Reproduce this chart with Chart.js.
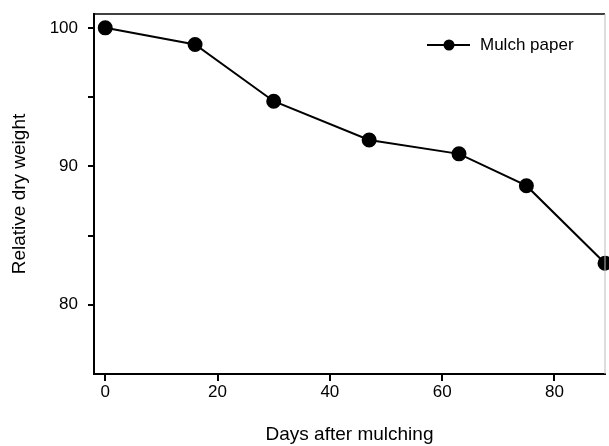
<!DOCTYPE html>
<html>
<head>
<meta charset="utf-8">
<script src="https://cdn.jsdelivr.net/npm/chart.js@4/dist/chart.umd.min.js"></script>
<style>
  html, body { margin: 0; padding: 0; background: #fff; }
  #wrap { width: 609px; height: 446px; }
</style>
</head>
<body>
<div id="wrap"><canvas id="chart" width="609" height="446"></canvas></div>
<script>
// data
var days = [0, 16, 30, 47, 63, 75, 89];
var dryWeight = [100, 98.8, 94.7, 91.9, 90.9, 88.6, 83.0];
var xTicks = [0, 20, 40, 60, 80];
var yTicks = [80, 85, 90, 95, 100];
var yLabelled = [80, 90, 100];
var seriesName = 'Mulch paper';

var FONT = '"Liberation Sans", Arial, sans-serif';

// frame on top and right + line-and-marker legend
var framePlugin = {
  id: 'frame',
  afterDraw: function(chart) {
    var ctx = chart.ctx;
    var a = chart.chartArea;
    ctx.save();
    ctx.strokeStyle = '#000';
    ctx.lineWidth = 1.5;
    ctx.beginPath();
    ctx.moveTo(a.left, a.top);
    ctx.lineTo(a.right, a.top);
    ctx.stroke();
    ctx.strokeStyle = '#bbb';
    ctx.lineWidth = 1;
    ctx.beginPath();
    ctx.moveTo(a.right, a.top);
    ctx.lineTo(a.right, a.bottom);
    ctx.stroke();

    // legend
    var ly = a.top + 31;
    var lx = a.right - 178;
    ctx.strokeStyle = '#000';
    ctx.lineWidth = 2;
    ctx.beginPath();
    ctx.moveTo(lx, ly);
    ctx.lineTo(lx + 43, ly);
    ctx.stroke();
    ctx.fillStyle = '#000';
    ctx.beginPath();
    ctx.arc(lx + 22, ly, 5.5, 0, Math.PI * 2);
    ctx.fill();
    ctx.font = '17px ' + FONT;
    ctx.textBaseline = 'middle';
    ctx.fillText(chart.data.datasets[0].label, lx + 53, ly);
    ctx.restore();
  }
};

var points = days.map(function(d, i) { return { x: d, y: dryWeight[i] }; });

new Chart(document.getElementById('chart'), {
  type: 'line',
  data: {
    datasets: [{
      label: seriesName,
      data: points,
      borderColor: '#000',
      backgroundColor: '#000',
      borderWidth: 2,
      pointRadius: 6.5,
      pointHoverRadius: 6.5,
      tension: 0,
      clip: false
    }]
  },
  options: {
    responsive: false,
    animation: false,
    events: [],
    layout: { autoPadding: false, padding: { left: 0, right: 4, top: 14, bottom: 0 } },
    plugins: {
      legend: { display: false },
      tooltip: { enabled: false }
    },
    scales: {
      x: {
        type: 'linear',
        min: -2,
        max: 89,
        afterBuildTicks: function(scale) {
          scale.ticks = xTicks.map(function(v) { return { value: v }; });
        },
        afterFit: function(scale) { scale.height = 72; },
        border: { color: '#000', width: 2 },
        grid: { drawOnChartArea: false, drawTicks: true, tickLength: 7, color: '#000', lineWidth: 2 },
        ticks: {
          color: '#000',
          font: { family: FONT, size: 17 },
          padding: 1,
          maxRotation: 0
        },
        title: {
          display: true,
          text: 'Days after mulching',
          color: '#000',
          font: { family: FONT, size: 19 },
          padding: { top: 9, bottom: 0 }
        }
      },
      y: {
        min: 75,
        max: 101,
        afterBuildTicks: function(scale) {
          scale.ticks = yTicks.map(function(v) { return { value: v }; });
        },
        afterFit: function(scale) {
          scale.width = 94;
          scale.paddingTop = 0;
          scale.paddingBottom = 0;
        },
        border: { color: '#000', width: 2 },
        grid: { drawOnChartArea: false, drawTicks: true, tickLength: 6, color: '#000', lineWidth: 2 },
        ticks: {
          color: '#000',
          font: { family: FONT, size: 17 },
          padding: 10,
          callback: function(v) { return yLabelled.indexOf(v) >= 0 ? String(v) : ''; }
        },
        title: {
          display: true,
          text: 'Relative dry weight',
          color: '#000',
          font: { family: FONT, size: 19 },
          padding: { top: 8, bottom: 0 }
        }
      }
    }
  },
  plugins: [framePlugin]
});
</script>
</body>
</html>
